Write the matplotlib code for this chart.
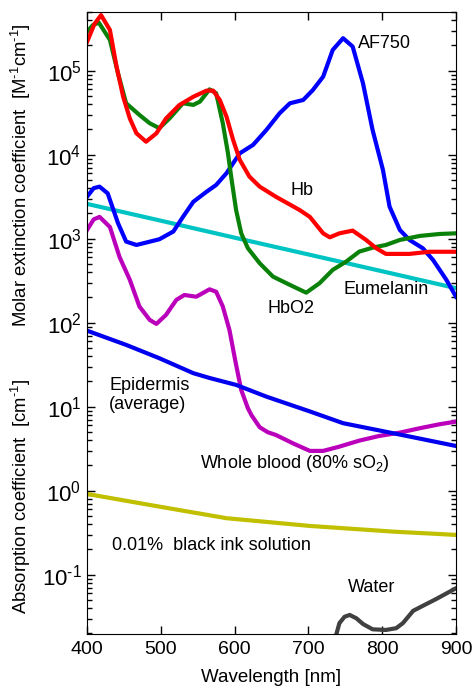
import numpy as np
import matplotlib
matplotlib.use("Agg")
from matplotlib import pyplot as plt
from matplotlib.ticker import FixedLocator, NullFormatter, FuncFormatter

plt.rcParams['font.family'] = ['Liberation Sans', 'DejaVu Sans']
plt.rcParams['mathtext.fontset'] = 'custom'
plt.rcParams['mathtext.rm'] = 'Liberation Sans'
plt.rcParams['mathtext.it'] = 'Liberation Sans:italic'
plt.rcParams['mathtext.bf'] = 'Liberation Sans:bold'

# Hb (deoxy) molar extinction [M^-1 cm^-1]
hb_wl = [400, 410, 419, 431, 440, 449, 458, 467, 480, 494, 507, 525, 544, 562, 571, 580, 589,
         598, 607, 620, 634, 656, 688, 702, 720, 729, 742, 760, 778, 792, 805, 837, 864, 900]
hb_val = [2.2e5, 3.6e5, 4.6e5, 3.06e5, 1.12e5, 4.9e4, 2.7e4, 1.8e4, 1.43e4, 1.8e4, 2.7e4, 3.9e4,
          4.9e4, 5.8e4, 5.8e4, 4.47e4, 2.84e4, 1.5e4, 8.7e3, 5.5e3, 4.17e3, 3.16e3, 2.2e3,
          1.82e3, 1.16e3, 1.04e3, 1.16e3, 1.25e3, 970, 770, 660, 660, 700, 700]

# HbO2
hbo2_wl = [400, 408, 416, 431, 442, 453, 471, 485, 498, 512, 530, 544, 553, 566, 575, 584, 591,
           596, 602, 609, 618, 634, 652, 675, 697, 715, 733, 751, 769, 787, 805, 824, 851, 878, 900]
hbo2_val = [2.92e5, 3.5e5, 3.74e5, 2.33e5, 9.3e4, 4.1e4, 2.98e4, 2.37e4, 2.07e4, 2.72e4, 4.1e4,
            3.92e4, 4.29e4, 6.0e4, 5.4e4, 2.37e4, 1.04e4, 5.0e3, 2.2e3, 1.16e3, 771, 511,
            354, 282, 228, 295, 426, 533, 703, 783, 843, 968, 1080, 1140, 1160]

# AF750 dye
af_wl = [400, 409, 417, 428, 442, 453, 467, 480, 498, 517, 530, 544, 562, 575, 589, 607, 625,
         643, 661, 675, 693, 706, 720, 733, 747, 760, 774, 787, 801, 810, 824, 837, 855,
         869, 887, 900]
af_val = [3160, 4000, 4170, 3470, 1530, 925, 843, 900, 986, 1220, 1820, 2750, 3630, 4370, 6030,
          1.04e4, 1.31e4, 1.97e4, 3.12e4, 4.1e4, 4.49e4, 5.89e4, 8.51e4, 1.77e5, 2.44e5,
          1.94e5, 7.08e4, 1.97e4, 6610, 2410, 1270, 968, 771, 558, 324, 204]

# Eumelanin
mel_wl = [400, 500, 600, 700, 800, 900]
mel_val = [2600, 1640, 1030, 650, 410, 258]

# Whole blood (80% sO2) absorption [cm^-1]
blood_wl = [400, 409, 417, 431, 444, 458, 471, 485, 494, 507, 521, 532, 548, 566, 575, 584, 593,
            602, 609, 618, 623, 634, 645, 656, 679, 702, 720, 742, 769, 796, 824, 851, 878, 900]
blood_val = [1270, 1700, 1820, 1380, 608, 324, 156, 108, 96.8, 124, 187, 214, 204, 250, 234,
             156, 82, 31.6, 15.8, 9.6, 7.9, 5.7, 4.97, 4.61, 3.67, 2.98, 2.98, 3.35, 3.95,
             4.49, 4.92, 5.55, 6.19, 6.65]

# Epidermis (average)
epi_wl = [400, 453, 498, 544, 566, 602, 643, 702, 747, 792, 837, 900]
epi_val = [80.5, 54.5, 37.8, 25.1, 22.0, 18.2, 13.2, 8.79, 6.37, 5.31, 4.42, 3.41]

# 0.01% black ink
ink_wl = [400, 498, 589, 702, 815, 900]
ink_val = [0.916, 0.647, 0.471, 0.381, 0.326, 0.298]

# Water
water_wl = [735, 742, 749, 756, 765, 774, 787, 805, 819, 828, 842, 855, 873, 900]
water_val = [0.0158, 0.0265, 0.0316, 0.0332, 0.0303, 0.0259, 0.0224, 0.022, 0.0231,
             0.0265, 0.0372, 0.0426, 0.0513, 0.069]

decades = [-1, 0, 1, 2, 3, 4, 5]

fig = plt.figure(figsize=(4.73, 6.88), dpi=100)
ax = fig.add_axes([0.184, 0.0785, 0.78, 0.904])

lw = 3.0
ax.plot(mel_wl, mel_val, color='#00c4c4', lw=lw)
ax.plot(af_wl, af_val, color='#0000ff', lw=lw)
ax.plot(hbo2_wl, hbo2_val, color='#0a820a', lw=lw)
ax.plot(hb_wl, hb_val, color='#ff0000', lw=lw)
ax.plot(blood_wl, blood_val, color='#bb00bb', lw=lw)
ax.plot(epi_wl, epi_val, color='#0000ee', lw=lw)
ax.plot(ink_wl, ink_val, color='#c0c000', lw=lw)
ax.plot(water_wl, water_val, color='#404040', lw=lw)

ax.set_yscale('log')
ax.set_xlim(400, 900)
ax.set_ylim(0.0197, 5.0e5)

ax.xaxis.set_major_locator(FixedLocator([400, 500, 600, 700, 800, 900]))
ax.yaxis.set_major_locator(FixedLocator([10.0 ** d for d in decades]))
minor = [m * 10.0 ** d for d in range(-2, 6) for m in range(2, 10)]
ax.yaxis.set_minor_locator(FixedLocator(minor))
ax.yaxis.set_minor_formatter(NullFormatter())
ax.yaxis.set_major_formatter(FuncFormatter(
    lambda v, p: r'$10^{\text{%d}}$' % int(round(np.log10(v)))))
ax.tick_params(which='both', direction='in', top=True, right=True, width=1)
ax.tick_params(which='major', length=6)
ax.tick_params(which='minor', length=3.5)
ax.tick_params(axis='x', labelsize=14, pad=5)
ax.tick_params(axis='y', labelsize=16, pad=4)

ax.set_xlabel('Wavelength [nm]', fontsize=13.5, labelpad=8)

fig.text(0.045, 0.746, r'Molar extinction coefficient  [M$^{\text{-1}}$cm$^{\text{-1}}$]',
         rotation=90, ha='center', va='center', fontsize=13.3)
fig.text(0.045, 0.279, r'Absorption coefficient  [cm$^{\text{-1}}$]',
         rotation=90, ha='center', va='center', fontsize=13.3)

fs = 13
ax.text(767, 10**5.33, 'AF750', fontsize=fs, va='center')
ax.text(676, 10**3.573, 'Hb', fontsize=fs, va='center')
ax.text(644, 10**2.164, 'HbO2', fontsize=fs, va='center')
ax.text(747, 10**2.39, 'Eumelanin', fontsize=fs, va='center')
ax.text(430, 10**1.14, 'Epidermis\n(average)', fontsize=fs, va='center', linespacing=1.2)
ax.text(553, 10**0.319, r'Whole blood (80% sO$_2$)', fontsize=fs, va='center')
ax.text(434, 10**-0.657, '0.01%  black ink solution', fontsize=fs, va='center')
ax.text(754, 10**-1.157, 'Water', fontsize=fs, va='center')

fig.savefig('out.png', dpi=100)
